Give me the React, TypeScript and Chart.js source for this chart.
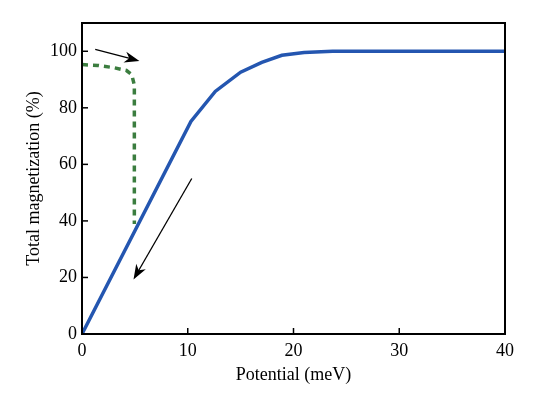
import React, { useEffect, useRef } from "react";
import { Chart, registerables } from "chart.js";

Chart.register(...registerables);

const blueX = [0, 10.3, 12.6, 15.0, 17.0, 18.9, 21.0, 23.7, 30, 40];
const blueY = [0, 75.2, 85.8, 92.6, 96.1, 98.6, 99.6, 100, 100, 100];

const greenX = [0, 1.5, 3, 4.2, 4.7, 4.95, 4.95];
const greenY = [95.3, 95, 94.2, 93.2, 91.8, 88, 38.9];

const xTickValues = [0, 10, 20, 30, 40];
const yTickValues = [0, 20, 40, 60, 80, 100];

// annotation arrows in data units: [x, y]
const arrowFrom1 = [1.25, 100.7];
const arrowTo1 = [5.43, 96.6];
const arrowFrom2 = [10.38, 55];
const arrowTo2 = [4.87, 19.3];

const FONT = "'Liberation Serif', 'Times New Roman', serif";

const framePlugin = {
  id: "frameAndArrows",
  afterDatasetsDraw(chart: any) {
    const { ctx, chartArea, scales } = chart;
    const xs = scales.x;
    const ys = scales.y;
    ctx.save();
    ctx.strokeStyle = "#000";
    ctx.lineWidth = 1.5;
    const tl = 6;
    xTickValues.forEach((v) => {
      const px = xs.getPixelForValue(v);
      ctx.beginPath();
      ctx.moveTo(px, chartArea.bottom);
      ctx.lineTo(px, chartArea.bottom - tl);
      ctx.stroke();
    });
    yTickValues.forEach((v) => {
      const py = ys.getPixelForValue(v);
      ctx.beginPath();
      ctx.moveTo(chartArea.left, py);
      ctx.lineTo(chartArea.left + tl, py);
      ctx.stroke();
    });
    ctx.lineWidth = 2;
    ctx.strokeRect(
      chartArea.left,
      chartArea.top,
      chartArea.right - chartArea.left,
      chartArea.bottom - chartArea.top
    );
    const drawArrow = (from: number[], to: number[]) => {
      const x1 = xs.getPixelForValue(from[0]);
      const y1 = ys.getPixelForValue(from[1]);
      const x2 = xs.getPixelForValue(to[0]);
      const y2 = ys.getPixelForValue(to[1]);
      const ang = Math.atan2(y2 - y1, x2 - x1);
      const hl = 15;
      const hw = 5.5;
      ctx.strokeStyle = "#000";
      ctx.fillStyle = "#000";
      ctx.lineWidth = 1.3;
      ctx.beginPath();
      ctx.moveTo(x1, y1);
      ctx.lineTo(x2 - Math.cos(ang) * 6, y2 - Math.sin(ang) * 6);
      ctx.stroke();
      const bx = x2 - Math.cos(ang) * hl;
      const by = y2 - Math.sin(ang) * hl;
      const nx = -Math.sin(ang);
      const ny = Math.cos(ang);
      const mx = x2 - Math.cos(ang) * hl * 0.7;
      const my = y2 - Math.sin(ang) * hl * 0.7;
      ctx.beginPath();
      ctx.moveTo(x2, y2);
      ctx.lineTo(bx + nx * hw, by + ny * hw);
      ctx.lineTo(mx, my);
      ctx.lineTo(bx - nx * hw, by - ny * hw);
      ctx.closePath();
      ctx.fill();
    };
    drawArrow(arrowFrom1, arrowTo1);
    drawArrow(arrowFrom2, arrowTo2);
    ctx.restore();
  },
};

export default function App() {
  const ref = useRef<HTMLCanvasElement | null>(null);
  useEffect(() => {
    if (!ref.current) return;
    const chart = new Chart(ref.current, {
      type: "scatter",
      data: {
        datasets: [
          {
            data: greenX.map((x, i) => ({ x, y: greenY[i] })),
            showLine: true,
            borderColor: "#3b7d3f",
            borderWidth: 3.5,
            borderDash: [6, 5],
            pointRadius: 0,
            tension: 0,
            fill: false,
          },
          {
            data: blueX.map((x, i) => ({ x, y: blueY[i] })),
            showLine: true,
            borderColor: "#2456b0",
            borderWidth: 3.5,
            pointRadius: 0,
            tension: 0,
            fill: false,
          },
        ],
      },
      options: {
        animation: false,
        responsive: false,
        maintainAspectRatio: false,
        layout: { padding: { top: 23, right: 44, left: 0, bottom: 0 } },
        plugins: { legend: { display: false }, tooltip: { enabled: false } },
        scales: {
          x: {
            type: "linear",
            min: 0,
            max: 40,
            afterBuildTicks: (s: any) => {
              s.ticks = xTickValues.map((v) => ({ value: v }));
            },
            afterFit: (s: any) => {
              s.height = 59;
            },
            grid: { display: false, drawTicks: false },
            border: { display: false },
            ticks: {
              color: "#000",
              padding: 6,
              maxRotation: 0,
              font: { family: FONT, size: 18 },
            },
            title: {
              display: true,
              text: "Potential (meV)",
              color: "#000",
              font: { family: FONT, size: 18 },
              padding: { top: 0, bottom: 7 },
            },
          },
          y: {
            type: "linear",
            min: 0,
            max: 110,
            afterBuildTicks: (s: any) => {
              s.ticks = yTickValues.map((v) => ({ value: v }));
            },
            afterFit: (s: any) => {
              s.width = 82;
            },
            grid: { display: false, drawTicks: false },
            border: { display: false },
            ticks: {
              color: "#000",
              padding: 5,
              font: { family: FONT, size: 18 },
            },
            title: {
              display: true,
              text: "Total magnetization (%)",
              color: "#000",
              font: { family: FONT, size: 18 },
              padding: { top: 23, bottom: 0 },
            },
          },
        },
      },
      plugins: [framePlugin],
    });
    return () => chart.destroy();
  }, []);
  return (
    <div style={{ position: "absolute", left: 0, top: 0, width: 549, height: 393, background: "#fff" }}>
      <canvas ref={ref} width={549} height={393} style={{ width: 549, height: 393 }} />
    </div>
  );
}
